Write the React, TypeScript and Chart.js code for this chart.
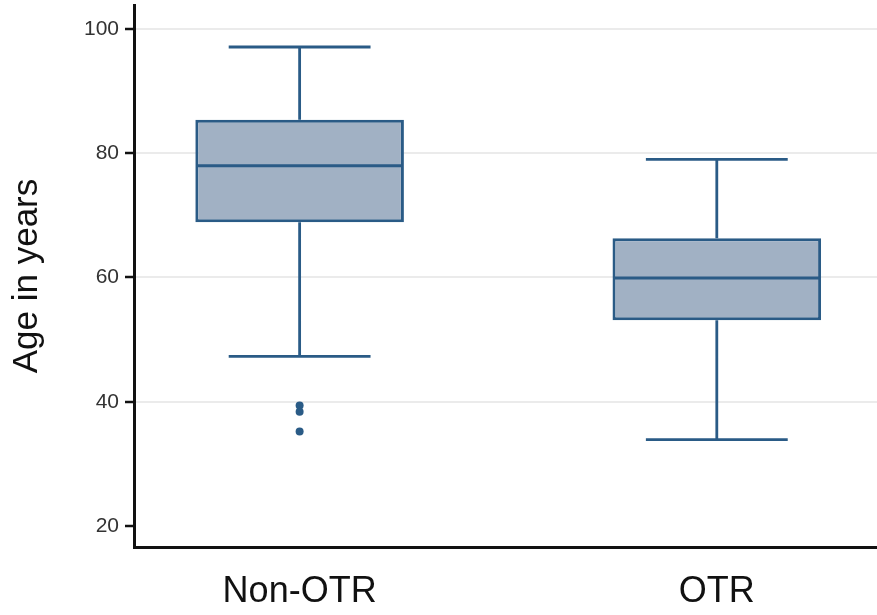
import React, { useEffect, useRef } from 'react';
import { Chart, registerables } from 'chart.js';
Chart.register(...registerables);

const categories = ['Non-OTR', 'OTR'];
const whiskerLow = [47.3, 33.9];
const q1 = [68.9, 53.1];
const median = [78, 59.9];
const q3 = [85.4, 66.3];
const whiskerHigh = [97.1, 79];
const outliers = [[39.4, 38.4, 35.2], []];
const yTicks = [20, 40, 60, 80, 100];

const STROKE = '#2a5b86';
const FILL = '#a1b1c4';
const BOX_HALF = 0.25;
const CAP_HALF = 0.17;

export default function App() {
  const ref = useRef<HTMLCanvasElement | null>(null);
  useEffect(() => {
    document.body.style.margin = '0';
    const pos = categories.map((_, i) => i + 1);
    const boxData = pos.map((c, i) => ({ x: c, y: [q1[i], q3[i]] }));
    const whiskerData: any[] = [];
    const medianData: any[] = [];
    const outlierData: any[] = [];
    pos.forEach((c, i) => {
      whiskerData.push({ x: c, y: q3[i] }, { x: c, y: whiskerHigh[i] }, { x: c, y: null });
      whiskerData.push({ x: c - CAP_HALF, y: whiskerHigh[i] }, { x: c + CAP_HALF, y: whiskerHigh[i] }, { x: c, y: null });
      whiskerData.push({ x: c, y: q1[i] }, { x: c, y: whiskerLow[i] }, { x: c, y: null });
      whiskerData.push({ x: c - CAP_HALF, y: whiskerLow[i] }, { x: c + CAP_HALF, y: whiskerLow[i] }, { x: c, y: null });
      medianData.push({ x: c - BOX_HALF + 0.003, y: median[i] }, { x: c + BOX_HALF - 0.003, y: median[i] }, { x: c, y: null });
      outliers[i].forEach((v) => outlierData.push({ x: c, y: v }));
    });
    const font = "'Liberation Sans', Arial, Helvetica, sans-serif";
    const chart = new Chart(ref.current as HTMLCanvasElement, {
      type: 'bar',
      data: {
        datasets: [
          {
            type: 'scatter',
            data: outlierData,
            pointRadius: 4,
            backgroundColor: STROKE,
            borderWidth: 0,
            order: 0,
          } as any,
          {
            type: 'line',
            data: medianData,
            borderColor: STROKE,
            borderWidth: 3,
            pointRadius: 0,
            spanGaps: false,
            borderCapStyle: 'butt',
            order: 1,
          } as any,
          {
            type: 'line',
            data: whiskerData,
            borderColor: STROKE,
            borderWidth: 2.8,
            pointRadius: 0,
            spanGaps: false,
            borderCapStyle: 'butt',
            order: 2,
          } as any,
          {
            type: 'bar',
            data: boxData,
            backgroundColor: FILL,
            borderColor: STROKE,
            borderWidth: 3,
            borderSkipped: false,
            barPercentage: 0.5,
            categoryPercentage: 1,
            order: 3,
          } as any,
        ],
      },
      options: {
        responsive: false,
        animation: false,
        devicePixelRatio: 1,
        layout: { autoPadding: false, padding: { top: 5, right: 0, left: 0, bottom: 0 } },
        plugins: { legend: { display: false }, tooltip: { enabled: false } },
        scales: {
          x: {
            type: 'linear',
            min: 0.603,
            max: 2.384,
            offset: false,
            grid: { display: false, offset: false },
            border: { display: true, color: '#111', width: 3 },
            afterBuildTicks: (s: any) => {
              s.ticks = pos.map((v) => ({ value: v }));
            },
            afterFit: (s: any) => {
              s.height = 68;
              s.paddingLeft = 0;
              s.paddingRight = 0;
            },
            ticks: {
              autoSkip: false,
              maxRotation: 0,
              padding: 15,
              color: '#111',
              font: { family: font, size: 36, lineHeight: 1.2 },
              callback: (v: any) => categories[Math.round(Number(v)) - 1] ?? '',
            },
          },
          y: {
            type: 'linear',
            min: 16.62,
            max: 103.86,
            grid: {
              color: (ctx: any) => (ctx.tick && ctx.tick.value === 20 ? 'rgba(0,0,0,0)' : '#ebebeb'),
              lineWidth: 2,
              tickColor: '#111',
              tickLength: 9,
              tickWidth: 2.5,
            },
            border: { display: true, color: '#111', width: 3 },
            afterBuildTicks: (s: any) => {
              s.ticks = yTicks.map((v) => ({ value: v }));
            },
            afterFit: (s: any) => {
              s.width = 134;
              s.paddingTop = 0;
              s.paddingBottom = 0;
            },
            ticks: {
              padding: 6,
              color: '#333',
              font: { family: font, size: 21 },
              callback: (v: any) => String(v),
            },
            title: {
              display: true,
              text: 'Age in years',
              color: '#111',
              font: { family: font, size: 35, lineHeight: 1.2 },
              padding: { top: 6, bottom: 0 },
            },
          },
        },
      } as any,
    });
    return () => chart.destroy();
  }, []);
  return (
    <div style={{ width: 877, height: 615 }}>
      <canvas ref={ref} width={877} height={615} style={{ display: 'block' }} />
    </div>
  );
}
